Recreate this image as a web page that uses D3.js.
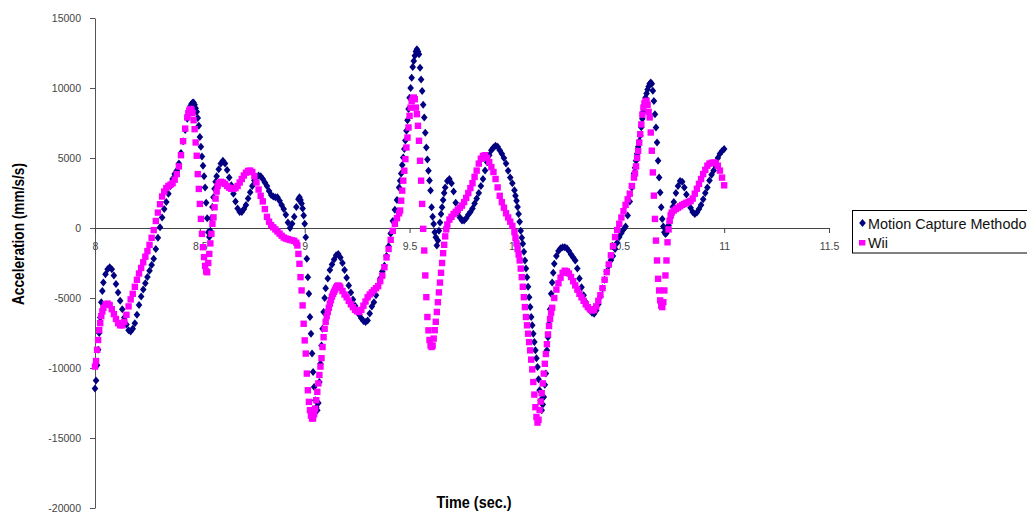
<!DOCTYPE html>
<html><head><meta charset="utf-8">
<script src="https://cdn.jsdelivr.net/npm/d3@7"></script>
<style>
html,body{margin:0;padding:0;background:#fff;}
svg{display:block;}
</style></head>
<body>
<svg id="chart" width="1027" height="515"></svg>
<script>
// ---- data (time in s, acceleration in mm/s/s) ----
const seriesNames = ["Motion Capture Methodology", "Wii"];
const xTicks = [8, 8.5, 9, 9.5, 10, 10.5, 11, 11.5];
const xTickLabels = ["8", "8.5", "9", "9.5", "10", "10.5", "11", "11.5"];
const yTicks = [-20000, -15000, -10000, -5000, 0, 5000, 10000, 15000];
const yTickLabels = ["-20000", "-15000", "-10000", "-5000", "0", "5000", "10000", "15000"];
const xTitle = "Time (sec.)";
const yTitle = "Acceleration (mm/s/s)";

const motionCapture = [[8.000,-11470],[8.005,-10900],[8.010,-9800],[8.015,-8700],[8.020,-7500],[8.025,-6400],[8.030,-5300],[8.035,-4500],[8.040,-3900],[8.050,-3300],[8.060,-2950],[8.070,-2800],[8.080,-2950],[8.090,-3400],[8.100,-4000],[8.110,-4600],[8.120,-5200],[8.130,-5800],[8.140,-6400],[8.150,-6900],[8.160,-7300],[8.170,-7400],[8.180,-7200],[8.190,-6800],[8.200,-6200],[8.210,-5500],[8.220,-4900],[8.230,-4400],[8.240,-3950],[8.250,-3500],[8.260,-3050],[8.270,-2650],[8.280,-2200],[8.290,-1500],[8.300,-700],[8.310,50],[8.320,750],[8.330,1350],[8.340,1850],[8.350,2450],[8.360,3000],[8.370,3500],[8.380,3850],[8.390,4100],[8.400,4600],[8.410,5350],[8.420,6200],[8.430,7000],[8.440,7800],[8.450,8500],[8.455,8700],[8.460,8850],[8.465,8950],[8.470,8960],[8.475,8800],[8.480,8550],[8.485,8300],[8.490,7850],[8.495,7300],[8.500,6500],[8.505,5800],[8.510,5100],[8.515,4450],[8.520,3700],[8.525,2900],[8.530,1800],[8.535,700],[8.540,-300],[8.545,-650],[8.550,-200],[8.555,700],[8.560,1500],[8.565,2200],[8.570,2800],[8.575,3300],[8.580,3700],[8.590,4200],[8.600,4600],[8.610,4800],[8.620,4600],[8.630,4150],[8.640,3600],[8.650,3050],[8.660,2450],[8.670,1900],[8.680,1400],[8.690,1150],[8.700,1150],[8.710,1350],[8.720,1650],[8.730,2100],[8.740,2550],[8.750,3000],[8.760,3400],[8.770,3650],[8.780,3750],[8.790,3700],[8.800,3500],[8.810,3250],[8.820,3000],[8.830,2650],[8.840,2350],[8.850,2250],[8.860,2200],[8.870,2200],[8.880,1950],[8.890,1650],[8.900,1350],[8.910,950],[8.920,400],[8.930,0],[8.940,300],[8.950,800],[8.960,1500],[8.970,2050],[8.975,2200],[8.980,2000],[8.985,1750],[8.990,1400],[8.995,900],[9.000,300],[9.005,-660],[9.010,-2200],[9.015,-3510],[9.020,-4700],[9.025,-6360],[9.030,-7550],[9.035,-8970],[9.040,-10280],[9.045,-11350],[9.050,-12300],[9.055,-12800],[9.060,-13010],[9.065,-12500],[9.070,-11000],[9.075,-9700],[9.080,-8400],[9.085,-7200],[9.090,-6000],[9.095,-5000],[9.100,-4300],[9.110,-3600],[9.120,-3000],[9.130,-2600],[9.140,-2250],[9.150,-1950],[9.160,-1850],[9.170,-2100],[9.180,-2500],[9.190,-3000],[9.200,-3550],[9.210,-4100],[9.220,-4600],[9.230,-5100],[9.240,-5550],[9.250,-5900],[9.260,-6200],[9.270,-6450],[9.280,-6650],[9.290,-6720],[9.300,-6600],[9.310,-6100],[9.320,-5600],[9.330,-5300],[9.340,-4800],[9.350,-4100],[9.360,-3600],[9.370,-3100],[9.380,-2700],[9.390,-2000],[9.400,-1300],[9.410,-400],[9.420,500],[9.430,1300],[9.440,2000],[9.450,2900],[9.455,3380],[9.460,3900],[9.465,4500],[9.470,5040],[9.475,5650],[9.480,6250],[9.485,6940],[9.490,7700],[9.495,8500],[9.500,9300],[9.505,10000],[9.510,10740],[9.515,11500],[9.520,11930],[9.525,12300],[9.530,12600],[9.535,12770],[9.540,12600],[9.545,12410],[9.550,11450],[9.555,10600],[9.560,9790],[9.565,8800],[9.570,7890],[9.575,6800],[9.580,5750],[9.585,4900],[9.590,4090],[9.595,3400],[9.600,2670],[9.605,1480],[9.610,800],[9.615,290],[9.620,-300],[9.625,-660],[9.630,-1250],[9.635,-900],[9.640,-190],[9.645,400],[9.650,1000],[9.655,1480],[9.660,2000],[9.665,2500],[9.670,2900],[9.680,3350],[9.690,3500],[9.700,3200],[9.710,2600],[9.720,1800],[9.730,1100],[9.740,750],[9.750,530],[9.760,530],[9.770,700],[9.780,950],[9.790,1150],[9.800,1400],[9.810,1750],[9.820,2100],[9.830,2500],[9.840,3000],[9.850,3500],[9.860,4100],[9.870,4700],[9.880,5200],[9.890,5550],[9.900,5750],[9.910,5870],[9.920,5800],[9.930,5550],[9.940,5300],[9.950,5000],[9.960,4600],[9.970,4090],[9.980,3600],[9.990,3200],[10.000,2700],[10.005,2300],[10.010,1950],[10.015,1500],[10.020,1000],[10.025,450],[10.030,-190],[10.035,-700],[10.040,-1130],[10.045,-1700],[10.050,-2320],[10.055,-2900],[10.060,-3510],[10.065,-4200],[10.070,-4940],[10.075,-5650],[10.080,-6360],[10.085,-6950],[10.090,-7550],[10.095,-8150],[10.100,-8740],[10.105,-9300],[10.110,-9930],[10.115,-10800],[10.120,-11590],[10.125,-12300],[10.130,-13010],[10.135,-12600],[10.140,-12070],[10.145,-11200],[10.150,-10400],[10.155,-8740],[10.160,-7800],[10.165,-6840],[10.170,-5800],[10.175,-4700],[10.180,-3900],[10.185,-3200],[10.190,-2560],[10.200,-2000],[10.210,-1650],[10.220,-1450],[10.230,-1380],[10.240,-1380],[10.250,-1450],[10.260,-1650],[10.270,-1900],[10.280,-2100],[10.290,-2320],[10.300,-2900],[10.310,-3600],[10.320,-4230],[10.330,-4800],[10.340,-5300],[10.350,-5650],[10.360,-5900],[10.370,-6050],[10.380,-6120],[10.390,-5900],[10.400,-5450],[10.410,-4900],[10.420,-4300],[10.430,-3700],[10.440,-3100],[10.450,-2700],[10.460,-2300],[10.470,-2000],[10.480,-1500],[10.490,-1050],[10.500,-650],[10.510,-350],[10.520,-100],[10.530,100],[10.540,900],[10.550,1900],[10.560,2900],[10.570,3900],[10.575,4300],[10.580,4800],[10.585,5300],[10.590,5800],[10.595,6200],[10.600,6600],[10.605,7200],[10.610,7800],[10.615,8300],[10.620,8800],[10.625,9300],[10.630,9600],[10.635,9900],[10.640,10100],[10.645,10300],[10.650,10390],[10.655,10300],[10.660,9800],[10.665,9080],[10.670,8130],[10.675,7180],[10.680,6110],[10.685,4800],[10.690,3610],[10.695,2540],[10.700,1480],[10.705,650],[10.710,100],[10.715,-300],[10.720,-420],[10.725,-350],[10.730,-100],[10.735,200],[10.740,450],[10.745,750],[10.750,1100],[10.755,1500],[10.760,1850],[10.770,2500],[10.780,3000],[10.790,3350],[10.800,3300],[10.810,2900],[10.820,2400],[10.830,1900],[10.840,1450],[10.850,1150],[10.860,1000],[10.870,1100],[10.880,1350],[10.890,1650],[10.900,2050],[10.910,2500],[10.920,2900],[10.930,3400],[10.940,3800],[10.950,4100],[10.960,4450],[10.970,5000],[10.980,5300],[10.990,5500],[11.000,5650]];

const wii = [[8.000,-9900],[8.005,-9500],[8.010,-8700],[8.015,-8000],[8.020,-7300],[8.025,-6800],[8.030,-6300],[8.035,-5950],[8.040,-5700],[8.050,-5450],[8.060,-5400],[8.070,-5500],[8.080,-5800],[8.090,-6150],[8.100,-6500],[8.110,-6800],[8.120,-6950],[8.130,-6950],[8.140,-6700],[8.150,-6200],[8.160,-5600],[8.170,-5100],[8.180,-4700],[8.190,-4200],[8.200,-3700],[8.210,-3250],[8.220,-2850],[8.230,-2450],[8.240,-2050],[8.250,-1650],[8.260,-1200],[8.270,-700],[8.280,-150],[8.290,500],[8.300,1100],[8.310,1700],[8.320,2250],[8.330,2600],[8.340,2850],[8.350,3000],[8.360,3100],[8.370,3200],[8.380,3450],[8.390,3850],[8.400,4400],[8.410,5200],[8.420,6200],[8.430,7100],[8.440,7900],[8.445,8200],[8.450,8400],[8.455,8500],[8.460,8450],[8.465,8200],[8.470,7700],[8.475,7060],[8.480,6110],[8.485,5160],[8.490,3850],[8.495,2790],[8.500,1720],[8.505,650],[8.510,-420],[8.515,-1370],[8.520,-2080],[8.525,-2700],[8.530,-3100],[8.535,-3160],[8.540,-2500],[8.545,-1850],[8.550,-1100],[8.555,-420],[8.560,300],[8.565,760],[8.570,1480],[8.575,2100],[8.580,2600],[8.585,3000],[8.590,3200],[8.600,3300],[8.610,3250],[8.620,3150],[8.630,3000],[8.640,2880],[8.650,2800],[8.660,2790],[8.670,2850],[8.680,3000],[8.690,3250],[8.700,3500],[8.710,3750],[8.720,3950],[8.730,4080],[8.740,4100],[8.750,4000],[8.760,3700],[8.770,3250],[8.780,2750],[8.790,2300],[8.800,1900],[8.810,1350],[8.820,800],[8.830,450],[8.840,200],[8.850,50],[8.860,-100],[8.870,-250],[8.880,-400],[8.890,-550],[8.900,-680],[8.910,-750],[8.920,-800],[8.930,-850],[8.940,-880],[8.950,-920],[8.960,-1050],[8.965,-1250],[8.970,-1850],[8.975,-2560],[8.980,-3510],[8.985,-4460],[8.990,-5530],[8.995,-6840],[9.000,-8030],[9.005,-8970],[9.010,-10400],[9.015,-11590],[9.020,-12420],[9.025,-13010],[9.030,-13400],[9.035,-13610],[9.040,-13600],[9.045,-13300],[9.050,-12900],[9.055,-12300],[9.060,-11700],[9.065,-11100],[9.070,-10500],[9.075,-9900],[9.080,-9300],[9.085,-8500],[9.090,-7800],[9.095,-7200],[9.100,-6700],[9.105,-6300],[9.110,-6000],[9.115,-5700],[9.120,-5400],[9.125,-5150],[9.130,-4900],[9.135,-4700],[9.140,-4550],[9.145,-4400],[9.150,-4250],[9.155,-4150],[9.160,-4110],[9.165,-4150],[9.170,-4250],[9.180,-4500],[9.190,-4750],[9.200,-4950],[9.210,-5200],[9.220,-5450],[9.230,-5650],[9.240,-5850],[9.250,-5950],[9.260,-6000],[9.270,-5850],[9.280,-5550],[9.290,-5250],[9.300,-4950],[9.310,-4750],[9.320,-4600],[9.330,-4450],[9.340,-4300],[9.350,-4150],[9.360,-3800],[9.370,-3400],[9.380,-2800],[9.390,-2100],[9.400,-1500],[9.410,-850],[9.420,-200],[9.430,300],[9.440,700],[9.450,1050],[9.455,1250],[9.460,1950],[9.465,2670],[9.470,3380],[9.475,4090],[9.480,4920],[9.485,5750],[9.490,6460],[9.495,7180],[9.500,8010],[9.505,8600],[9.510,9080],[9.515,9250],[9.520,9320],[9.525,9200],[9.530,8600],[9.535,8130],[9.540,7300],[9.545,6230],[9.550,4800],[9.555,3380],[9.560,1720],[9.565,-60],[9.570,-1610],[9.575,-3390],[9.580,-4940],[9.585,-6360],[9.590,-7310],[9.595,-8000],[9.600,-8400],[9.605,-8500],[9.610,-8400],[9.615,-7900],[9.620,-7300],[9.625,-6700],[9.630,-6000],[9.635,-5300],[9.640,-4600],[9.645,-3900],[9.650,-3200],[9.655,-2500],[9.660,-1800],[9.665,-1200],[9.670,-600],[9.675,-100],[9.680,250],[9.690,600],[9.700,800],[9.710,1000],[9.720,1150],[9.730,1300],[9.740,1450],[9.750,1600],[9.760,1850],[9.770,2150],[9.780,2500],[9.790,2850],[9.800,3200],[9.810,3650],[9.820,4100],[9.830,4600],[9.840,4950],[9.850,5150],[9.860,5200],[9.870,5000],[9.880,4700],[9.890,4350],[9.900,4000],[9.910,3500],[9.920,2900],[9.930,2300],[9.940,1850],[9.950,1450],[9.960,1050],[9.970,750],[9.980,450],[9.990,150],[10.000,-300],[10.005,-700],[10.010,-1100],[10.015,-1500],[10.020,-1900],[10.025,-2320],[10.030,-2900],[10.035,-3510],[10.040,-4200],[10.045,-4940],[10.050,-5650],[10.055,-6360],[10.060,-6950],[10.065,-7550],[10.070,-8150],[10.075,-8740],[10.080,-9400],[10.085,-10100],[10.090,-11000],[10.095,-11900],[10.100,-12800],[10.105,-13500],[10.110,-13900],[10.115,-13700],[10.120,-13000],[10.125,-12400],[10.130,-11800],[10.135,-11100],[10.140,-10400],[10.145,-9700],[10.150,-9000],[10.155,-8300],[10.160,-7600],[10.165,-7000],[10.170,-6500],[10.175,-6050],[10.180,-5700],[10.190,-5000],[10.200,-4400],[10.210,-3950],[10.220,-3550],[10.230,-3200],[10.240,-3050],[10.250,-3100],[10.260,-3250],[10.270,-3500],[10.280,-3800],[10.290,-4100],[10.300,-4400],[10.310,-4700],[10.320,-4950],[10.330,-5200],[10.340,-5450],[10.350,-5650],[10.360,-5800],[10.370,-5900],[10.380,-5850],[10.390,-5600],[10.400,-5200],[10.410,-4800],[10.420,-4300],[10.430,-3700],[10.440,-3150],[10.450,-2600],[10.460,-1950],[10.470,-1300],[10.480,-650],[10.490,-150],[10.500,300],[10.510,750],[10.520,1200],[10.530,1650],[10.540,2050],[10.550,2450],[10.560,3000],[10.570,3600],[10.575,3900],[10.580,4400],[10.585,5000],[10.590,5500],[10.595,6100],[10.600,6700],[10.605,7400],[10.610,8100],[10.615,8600],[10.620,8900],[10.625,9050],[10.630,9080],[10.635,8800],[10.640,8300],[10.645,7900],[10.650,6820],[10.655,5520],[10.660,3970],[10.665,2310],[10.670,650],[10.675,-900],[10.680,-2320],[10.685,-3630],[10.690,-4460],[10.695,-5170],[10.700,-5550],[10.705,-5650],[10.710,-5300],[10.715,-4460],[10.720,-3390],[10.725,-2320],[10.730,-1020],[10.735,-100],[10.740,500],[10.745,900],[10.750,1100],[10.760,1250],[10.770,1360],[10.780,1450],[10.790,1550],[10.800,1650],[10.810,1720],[10.820,1800],[10.830,1850],[10.840,1920],[10.850,2100],[10.860,2450],[10.870,2800],[10.880,3150],[10.890,3500],[10.900,3850],[10.910,4150],[10.920,4450],[10.930,4600],[10.940,4650],[10.950,4680],[10.960,4650],[10.970,4450],[10.980,4100],[10.990,3600],[11.000,3050]];

// ---- drawing ----
const svg = d3.select("#chart");
svg.append("rect").attr("width", 1027).attr("height", 515).attr("fill", "#fff");

const x = d3.scaleLinear().domain([8, 11.5]).range([95, 829]);
const y = d3.scaleLinear().domain([-20000, 15000]).range([508, 18]);

const tickFont = "'Liberation Sans', Arial, sans-serif";
const navy = "#000080";
const magenta = "#ff00ff";

// y axis
const yAxis = svg.append("g").attr("transform", `translate(${x(8)},0)`)
  .call(d3.axisLeft(y).tickValues(yTicks).tickSize(5).tickSizeOuter(0).tickPadding(9)
    .tickFormat((d, i) => yTickLabels[i]));
yAxis.select(".domain").attr("stroke", "#555");
yAxis.selectAll(".tick line").attr("stroke", "#555");
yAxis.selectAll(".tick text").attr("font-family", tickFont).attr("font-size", 10.5).attr("fill", "#444");

// x axis (crossing at 0)
const xAxis = svg.append("g").attr("transform", `translate(0,${y(0)})`)
  .call(d3.axisBottom(x).tickValues(xTicks).tickSize(5).tickSizeOuter(0).tickPadding(10)
    .tickFormat((d, i) => xTickLabels[i]));
xAxis.select(".domain").attr("stroke", "#444");
xAxis.selectAll(".tick line").attr("stroke", "#444");
xAxis.selectAll(".tick text").attr("font-family", tickFont).attr("font-size", 10.5).attr("fill", "#444");

// series
const diamond = "M0,-4L3.3,0L0,4L-3.3,0Z";
svg.append("g").selectAll("path").data(motionCapture).join("path")
  .attr("d", diamond)
  .attr("transform", d => `translate(${x(d[0])},${y(d[1])})`)
  .attr("fill", navy);

const sq = 6.4;
svg.append("g").selectAll("rect").data(wii).join("rect")
  .attr("x", d => x(d[0]) - sq / 2)
  .attr("y", d => y(d[1]) - sq / 2)
  .attr("width", sq).attr("height", sq)
  .attr("fill", magenta);

// axis titles
const titleFont = "'Liberation Sans Narrow', 'Arial Narrow', 'Liberation Sans', Arial, sans-serif";
svg.append("text")
  .attr("transform", "translate(24,234) rotate(-90)")
  .attr("text-anchor", "middle")
  .attr("font-family", titleFont).attr("font-weight", "bold").attr("font-size", 16)
  .attr("textLength", 142).attr("lengthAdjust", "spacingAndGlyphs")
  .attr("fill", "#000")
  .text(yTitle);
svg.append("text")
  .attr("x", 474).attr("y", 508)
  .attr("text-anchor", "middle")
  .attr("font-family", titleFont).attr("font-weight", "bold").attr("font-size", 17)
  .attr("textLength", 75).attr("lengthAdjust", "spacingAndGlyphs")
  .attr("fill", "#000")
  .text(xTitle);

// legend
const lg = svg.append("g");
lg.append("rect").attr("x", 852.5).attr("y", 210.5).attr("width", 200).attr("height", 42.5)
  .attr("fill", "#fff").attr("stroke", "#000").attr("stroke-width", 1);
lg.append("path").attr("d", diamond).attr("transform", "translate(862.5,223)").attr("fill", navy);
lg.append("rect").attr("x", 859).attr("y", 240).attr("width", 6.4).attr("height", 5.5).attr("fill", magenta);
lg.append("text").attr("x", 868).attr("y", 228.5).attr("font-family", tickFont).attr("font-size", 14.4)
  .attr("fill", "#111").text(seriesNames[0]);
lg.append("text").attr("x", 868).attr("y", 248).attr("font-family", tickFont).attr("font-size", 14.4)
  .attr("fill", "#111").text(seriesNames[1]);
</script>
</body></html>
